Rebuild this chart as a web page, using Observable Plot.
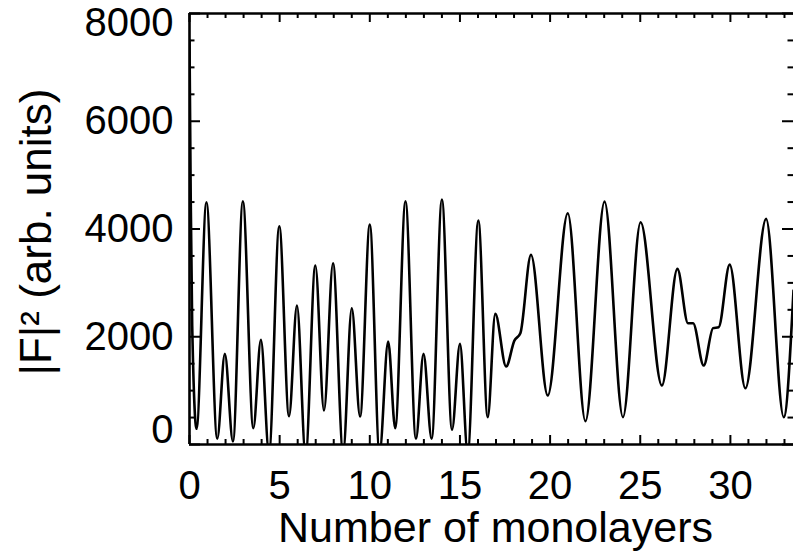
<!DOCTYPE html>
<html>
<head>
<meta charset="utf-8">
<script src="https://cdn.jsdelivr.net/npm/d3@7"></script>
<script src="https://cdn.jsdelivr.net/npm/@observablehq/plot@0.6"></script>
<style>
  html, body { margin: 0; padding: 0; background: #ffffff; }
</style>
</head>
<body>
<div id="chart"></div>
<script>
// Number of monolayers (x) and |F|^2 (y)
const layers = [0, 0.07, 0.15, 0.39, 0.94, 1.54, 1.96, 2.41, 2.96, 3.54, 3.96, 4.41, 4.98, 5.52, 5.96, 6.44, 6.98, 7.46, 7.96, 8.52, 9.0, 9.46, 10.0, 10.54, 11.02, 11.41, 11.98, 12.56, 12.98, 13.43, 14.0, 14.56, 15.0, 15.43, 16.02, 16.54, 16.96, 17.56, 18.02, 18.35, 18.94, 19.87, 20.98, 21.96, 23.02, 24.04, 25.02, 26.2, 27.06, 27.65, 27.93, 28.52, 29.04, 29.35, 29.96, 30.83, 31.98, 32.96, 33.5];
const intensity = [7500, 4500, 2200, 291, 4497, 106, 1683, 56, 4516, 303, 1943, -150, 4052, 525, 2580, -200, 3322, 631, 3365, -150, 2529, 519, 4081, -150, 1911, 303, 4514, 106, 1682, 106, 4545, 272, 1868, -150, 4155, 507, 2424, 1447, 1929, 2065, 3519, 909, 4291, 432, 4508, 507, 4124, 1094, 3259, 2250, 2250, 1465, 2160, 2176, 3339, 1044, 4187, 507, 2860];

const xMajorTicks = [0, 5, 10, 15, 20, 25, 30];
const xMinorTicks = [1,2,3,4,6,7,8,9,11,12,13,14,16,17,18,19,21,22,23,24,26,27,28,29,31,32,33];
const yMajorTicks = [0, 2000, 4000, 6000, 8000];
const yMinorTicks = [500,1000,1500,2500,3000,3500,4500,5000,5500,6500,7000,7500];
const yMidLabels = [2000, 4000, 6000];

const xTitle = "Number of monolayers";
const yTitle = "|F|\u00B2 (arb. units)";

const data = layers.map((x, i) => ({x, y: intensity[i]}));

const W = 793, H = 555;
const mL = 189, mR = 0, mT = 13, mB = 111;
const frameW = W - mL - mR, frameH = H - mT - mB;

const font = "'Liberation Sans', Arial, Helvetica, sans-serif";
const fmt = d => String(d);

const chart = Plot.plot({
  width: W,
  height: H,
  marginLeft: mL,
  marginRight: mR,
  marginTop: mT,
  marginBottom: mB,
  style: {fontFamily: font, fontSize: "40px", color: "#000", background: "#fff"},
  x: {domain: [0, 33.5]},
  y: {domain: [0, 8000]},
  marks: [
    // curve
    Plot.line(data, {x: "x", y: "y", curve: "monotone-x", stroke: "#000", strokeWidth: 2.6, clip: true}),
    // frame lines (top, bottom, left)
    Plot.ruleY([0, 8000], {stroke: "#000", strokeWidth: 2.4}),
    Plot.ruleX([0], {stroke: "#000", strokeWidth: 2.6}),
    // inward ticks: bottom
    Plot.tickX(xMajorTicks, {x: d => d, insetTop: frameH - 9, stroke: "#000", strokeWidth: 2}),
    Plot.tickX(xMinorTicks, {x: d => d, insetTop: frameH - 5, stroke: "#000", strokeWidth: 2}),
    // inward ticks: top
    Plot.tickX(xMajorTicks, {x: d => d, insetBottom: frameH - 9, stroke: "#000", strokeWidth: 2}),
    Plot.tickX(xMinorTicks, {x: d => d, insetBottom: frameH - 5, stroke: "#000", strokeWidth: 2}),
    // inward ticks: left
    Plot.tickY(yMajorTicks, {y: d => d, insetRight: frameW - 11, stroke: "#000", strokeWidth: 2}),
    Plot.tickY(yMinorTicks, {y: d => d, insetRight: frameW - 5.5, stroke: "#000", strokeWidth: 2}),
    // inward ticks: right
    Plot.tickY(yMajorTicks, {y: d => d, insetLeft: frameW - 11, stroke: "#000", strokeWidth: 2}),
    Plot.tickY(yMinorTicks, {y: d => d, insetLeft: frameW - 5.5, stroke: "#000", strokeWidth: 2}),
    // tick labels
    Plot.axisX(xMajorTicks, {tickSize: 0, tickPadding: 26, label: null, fontSize: 40, fill: "#000", tickFormat: fmt}),
    Plot.axisY(yMidLabels, {tickSize: 0, tickPadding: 16, label: null, fontSize: 40, fill: "#000", tickFormat: fmt}),
    Plot.axisY([8000], {tickSize: 0, tickPadding: 16, label: null, fontSize: 40, fill: "#000", dy: 10, tickFormat: fmt}),
    Plot.axisY([0], {tickSize: 0, tickPadding: 16, label: null, fontSize: 40, fill: "#000", dy: -14, tickFormat: fmt}),
    // titles
    Plot.text([xTitle], {frameAnchor: "bottom", lineAnchor: "middle", textAnchor: "middle", dx: 4, dy: 84, fontSize: 43, fill: "#000", fontFamily: font}),
    Plot.text([yTitle], {frameAnchor: "left", lineAnchor: "middle", textAnchor: "middle", rotate: -90, dx: -153, dy: 3, fontSize: 44, fill: "#000", fontFamily: font})
  ]
});

document.getElementById("chart").appendChild(chart);
</script>
</body>
</html>
